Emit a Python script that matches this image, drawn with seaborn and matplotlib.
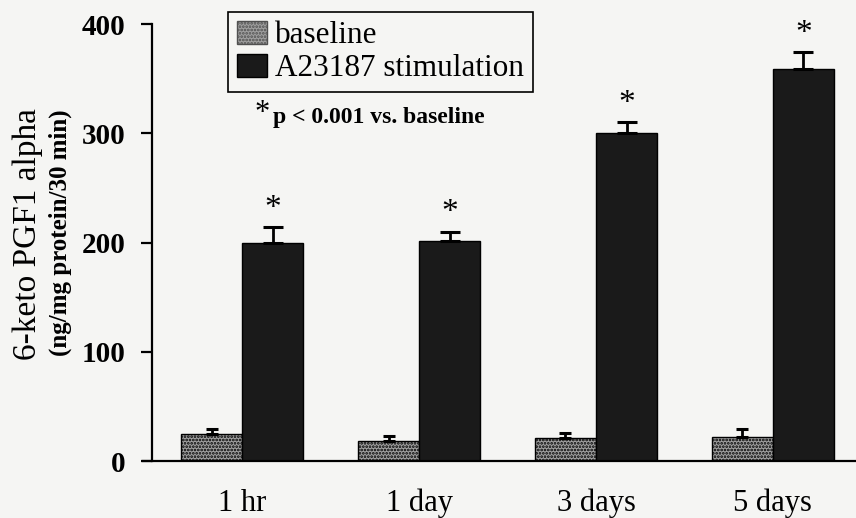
"""
6-keto PGF1 alpha release, baseline vs A23187 stimulation
"""

import numpy as np
import pandas as pd
import matplotlib
matplotlib.use('Agg')  # no display
import matplotlib.pyplot as plt
import seaborn as sns
from matplotlib.patches import Patch

# values
timepoints = ['1 hr', '1 day', '3 days', '5 days']
conditions = ['baseline', 'A23187 stimulation']
baseline = [25, 18, 21, 22]
baseline_err = [4, 5, 5, 7]
stimulation = [200, 201, 300, 359]
stimulation_err = [14, 9, 10, 15]

y_ticks = [0, 100, 200, 300, 400]

paper = '#f5f5f3'
base_color = '#a0a0a0'
stim_color = '#1a1a1a'

df = pd.DataFrame({
    'time': timepoints * 2,
    'condition': [conditions[0]] * 4 + [conditions[1]] * 4,
    'value': baseline + stimulation,
})

sns.set_style('ticks')
plt.rcParams['font.family'] = ['Liberation Serif', 'DejaVu Serif']
plt.rcParams['text.color'] = 'black'
plt.rcParams['xtick.color'] = 'black'
plt.rcParams['ytick.color'] = 'black'
plt.rcParams['axes.edgecolor'] = 'black'
plt.rcParams['hatch.color'] = '#505050'
plt.rcParams['hatch.linewidth'] = 1.3

fig = plt.figure(figsize=(8.56, 5.18), dpi=100, facecolor=paper)
ax = fig.add_axes([0.1776, 0.110, 0.8224, 0.8436])
ax.set_facecolor(paper)

sns.barplot(data=df, x='time', y='value', hue='condition', order=timepoints,
            hue_order=conditions, palette=[base_color, stim_color],
            width=0.69, errorbar=None, edgecolor='black', linewidth=1.0,
            saturation=1, legend=False, ax=ax)

bar_conts = list(ax.containers[:2])

# stippled look on the baseline bars
for bar in bar_conts[0]:
    bar.set_hatch('.....')

# one-sided error bars + significance stars
errs = [baseline_err, stimulation_err]
for k, cont in enumerate(bar_conts):
    xs = [b.get_x() + b.get_width() / 2 for b in cont]
    hs = [b.get_height() for b in cont]
    ax.errorbar(xs, hs, yerr=[np.zeros(len(hs)), errs[k]], fmt='none',
                ecolor='black', elinewidth=2, capthick=2.2,
                capsize=4 if k == 0 else 7, zorder=3)
    if k == 1:
        for x, h, e in zip(xs, hs, errs[k]):
            ax.text(x, h + e + 3, '*', ha='center', va='bottom',
                    fontsize=24, color='black')

ax.set_xlim(-0.51, 3.47)
ax.set_ylim(0, 400)
ax.set_yticks(y_ticks)
ax.set_yticklabels([str(t) for t in y_ticks], fontsize=21, fontweight='bold')
ax.tick_params(axis='y', length=8, width=1.6, pad=11)
ax.tick_params(axis='x', length=0, labelsize=22, pad=20)
ax.set_xlabel('')
ax.set_ylabel('')
for s in ['top', 'right']:
    ax.spines[s].set_visible(False)
ax.spines['left'].set_linewidth(1.6)
ax.spines['bottom'].set_linewidth(1.6)
ax.spines['bottom'].set_bounds(-0.56, 3.47)
ax.spines['bottom'].set_clip_on(False)

# two-line y label
fig.text(0.032, 0.548, '6-keto PGF1 alpha', rotation=90, ha='center',
         va='center', fontsize=24)
fig.text(0.071, 0.550, '(ng/mg protein/30 min)', rotation=90, ha='center',
         va='center', fontsize=18, fontweight='bold')

handles = [Patch(facecolor=base_color, edgecolor='#505050', hatch='.....'),
           Patch(facecolor=stim_color, edgecolor='black')]
leg = fig.legend(handles, conditions, loc='upper left',
                 bbox_to_anchor=(228 / 856, 1 - 12 / 518), fontsize=22.5,
                 frameon=True, fancybox=False, edgecolor='black',
                 facecolor=paper, framealpha=1, handlelength=0.97,
                 handleheight=0.75, handletextpad=0.25, borderpad=0.28,
                 labelspacing=0.12, borderaxespad=0)
leg.get_frame().set_linewidth(1.2)

fig.text(255 / 856, 1 - 114 / 518, '*', fontsize=22, ha='left', va='center')
fig.text(273 / 856, 1 - 117 / 518, 'p < 0.001 vs. baseline', fontsize=17,
         fontweight='bold', ha='left', va='center')

fig.savefig('out.png', dpi=100, facecolor=paper)
plt.close(fig)
